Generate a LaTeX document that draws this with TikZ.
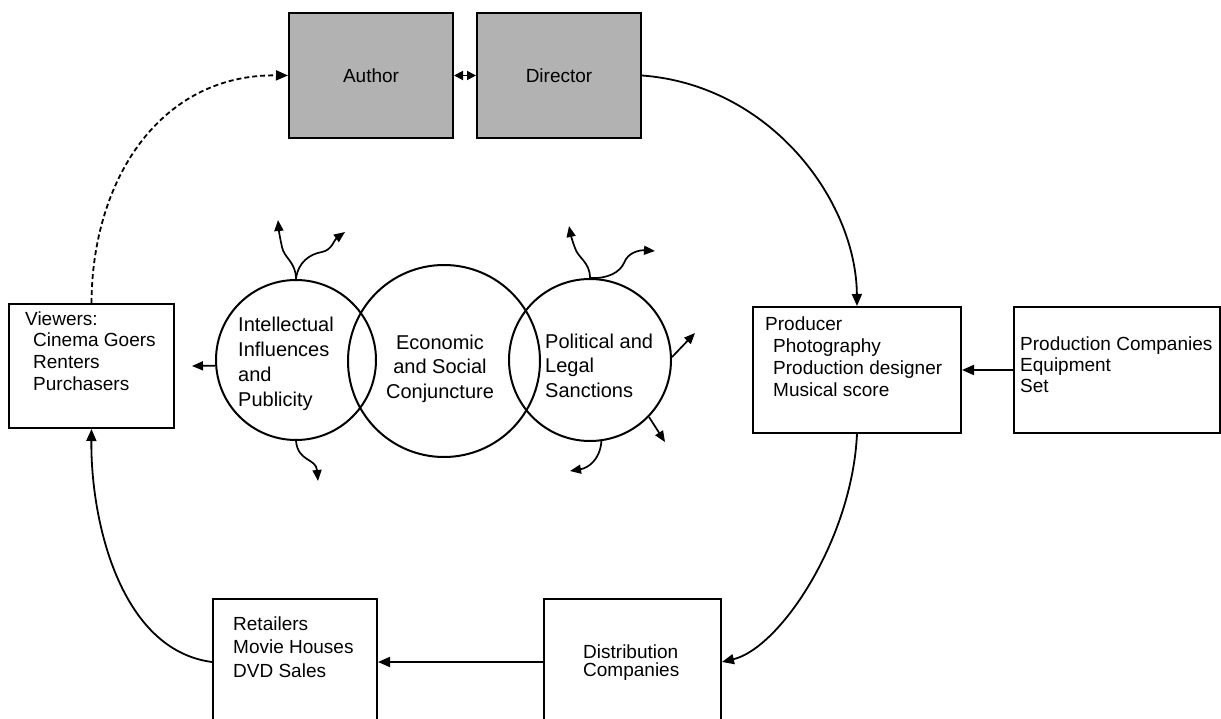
\documentclass[tikz,border=0pt]{standalone}
\usepackage{fontspec}
\setmainfont{Liberation Sans}
\usetikzlibrary{arrows.meta}
\definecolor{boxgray}{RGB}{178,178,178}
\begin{document}
\begin{tikzpicture}[x=1pt,y=-1pt,
  box/.style={draw, line width=2pt, rectangle, inner sep=0pt, anchor=north west},
  gbox/.style={box, fill=boxgray, font=\fontsize{19}{22}\selectfont},
  txt/.style={inner sep=0pt, anchor=north west, align=left},
  ring/.style={draw, circle, line width=2pt, inner sep=0pt},
  conn/.style={line width=1.8pt, -{Triangle[length=12pt,width=10pt]}},
  smallarrow/.style={line width=1.7pt, -{Triangle[length=11pt,width=9pt]}},
  dblarrow/.style={line width=1.8pt, {Triangle[length=9pt,width=9pt]}-{Triangle[length=9pt,width=9pt]}}
]
\path[use as bounding box] (0,0) rectangle (1221,719);
\clip (0,0) rectangle (1221,719);

% boxes
\node[gbox, minimum width=164, minimum height=125] (author) at (288,12) {Author};
\node[gbox, minimum width=164, minimum height=125] (director) at (476,12) {Director};
\node[box, minimum width=165, minimum height=124] (viewers) at (8,303) {};
\node[box, minimum width=208, minimum height=126] (producer) at (752,306) {};
\node[box, minimum width=206, minimum height=126] (prodco) at (1013,306) {};
\node[box, minimum width=164, minimum height=126] (retail) at (212,598) {};
\node[box, minimum width=177, minimum height=126] (distrib) at (543,598) {};

% box texts
\node[txt, font=\fontsize{19}{21.7}\selectfont] (viewerstxt) at (25,311.3)
  {Viewers:\\\hspace*{8pt}Cinema Goers\\\hspace*{8pt}Renters\\\hspace*{8pt}Purchasers};
\node[txt, font=\fontsize{19}{22}\selectfont] (producertxt) at (765,316.3)
  {Producer\\\hspace*{8pt}Photography\\\hspace*{8pt}Production designer\\\hspace*{8pt}Musical score};
\node[txt, font=\fontsize{19}{21}\selectfont] (prodcotxt) at (1020,336.3)
  {Production Companies\\Equipment\\Set};
\node[txt, font=\fontsize{19}{23.5}\selectfont] (retailtxt) at (233,616.4)
  {Retailers\\Movie Houses\\DVD Sales};
\node[txt, font=\fontsize{19}{18}\selectfont] (distribtxt) at (583,644.4)
  {Distribution\\Companies};

% circles
\node[ring, minimum size=160] (intel) at (296,360) {};
\node[ring, minimum size=192] (econ) at (444,361) {};
\node[ring, minimum size=162] (polit) at (590,360) {};

\node[txt, font=\fontsize{20}{25}\selectfont] (inteltxt) at (238,316.7)
  {Intellectual\\Influences\\and\\Publicity};
\node[inner sep=0pt, anchor=north, align=center, font=\fontsize{20}{24.5}\selectfont] (econtxt) at (440,334.7)
  {Economic\\and Social\\Conjuncture};
\node[txt, font=\fontsize{20}{24.5}\selectfont] (polittxt) at (545,333.7)
  {Political and\\Legal\\Sanctions};

% free ends of the small arrows
\coordinate (il) at (192,366);
\coordinate (it1) at (278,220);
\coordinate (it2) at (345,232);
\coordinate (ib) at (318,481);
\coordinate (pt1) at (569,226);
\coordinate (pt2) at (655,251);
\coordinate (pr) at (695,333);
\coordinate (plr) at (665,442);
\coordinate (pb) at (570,471);

% main connectors
\draw[conn, dash pattern=on 5pt off 3pt] (viewers.north) .. controls (92,180) and (160,74) .. (author.west);
\draw[dblarrow] (author.east) -- (director.west);
\draw[conn] (director.east) .. controls (770,85) and (856,200) .. (producer.north);
\draw[conn] (prodco.west) -- (producer.east);
\draw[conn] (producer.south) .. controls (852,540) and (780,648) .. (distrib.east);
\draw[conn] (distrib.west) -- (retail.east);
\draw[conn] (retail.west) .. controls (120,650) and (90.5,520) .. (viewers.south);

% small arrows from the circles
\draw[smallarrow] (intel.184) -- (il);
\draw[smallarrow] (intel.north) .. controls (296,262) and (284,258) .. (282,247) .. controls (280,238) and (279,232) .. (it1);
\draw[smallarrow] (intel.north) .. controls (298,262) and (310,254) .. (322,252) .. controls (332,250) and (334,240) .. (it2);
\draw[smallarrow] (intel.south) .. controls (298,462) and (316,458) .. (ib);
\draw[smallarrow] (polit.north) .. controls (590,262) and (578,258) .. (575,248) .. controls (572,240) and (571,236) .. (pt1);
\draw[smallarrow] (polit.north) .. controls (608,279) and (620,272) .. (624,263) .. controls (628,252) and (640,250) .. (pt2);
\draw[smallarrow] (polit.2) -- (pr);
\draw[smallarrow] (polit.-44) -- (plr);
\draw[smallarrow] (polit.-82) .. controls (600,460) and (588,468) .. (pb);
\end{tikzpicture}
\end{document}
